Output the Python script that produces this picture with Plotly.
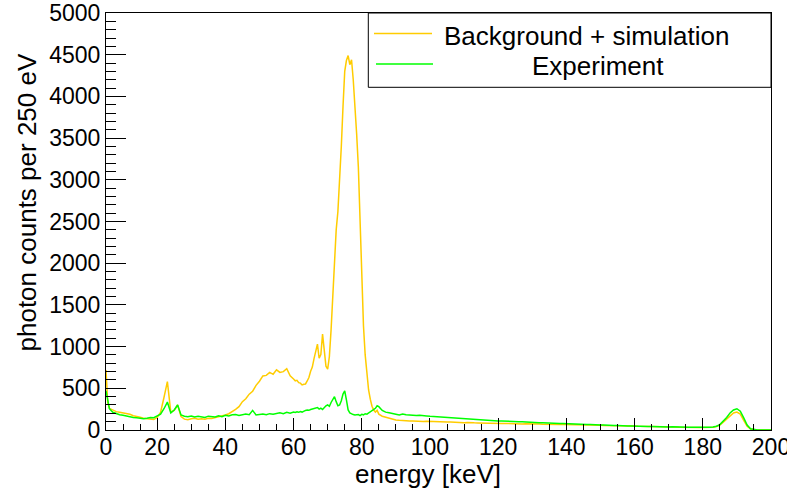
import numpy as np
import plotly.graph_objects as go

# Energy grid in keV: 1 keV steps, 0.5 keV steps across the main peak
energy_low = [5.0, 5.5] + list(range(6, 61))            # 57 points
energy_peak = list(np.arange(60.5, 85.01, 0.5))          # 50 points
energy_tail = list(range(86, 201))                       # 115 points

# Background + simulation (photon counts per 250 eV)
bg_low = [720, 330, 260, 235, 220, 212, 205, 195, 188, 172, 165, 152, 140, 135,
          122, 125, 150, 210, 390, 580, 215, 235, 300, 160, 130, 122, 135, 140,
          128, 135, 130, 142, 138, 148, 155, 165, 180, 195, 218, 248, 280, 340,
          375, 430, 465, 535, 585, 648, 655, 690, 668, 722, 690, 700, 735, 650,
          612]
bg_peak = [590, 596, 568, 562, 540, 548, 552, 588, 630, 705,
           755, 855, 965, 1030, 860, 905, 1150, 940, 765, 730,
           880, 1200, 1600, 2050, 2400, 2620, 2950, 3400, 3880, 4300,
           4430, 4490, 4380, 4440, 4200, 3920, 3550, 3150, 2550, 1750,
           1250, 900, 680, 480, 370, 285, 240, 215, 235, 190]
bg_tail = [165, 152, 141, 131, 121, 116, 111, 109, 107, 109,
           105, 108, 103, 106, 103, 101, 99, 98, 100, 95,
           95, 92, 93, 89, 88, 90, 85, 86, 85, 83,
           84, 81, 82, 79, 80, 77, 79, 76, 77, 74,
           75, 73, 74, 71, 72, 70, 71, 69, 70, 67,
           68, 66, 67, 65, 65, 63, 64, 61, 62, 60,
           60, 58, 59, 57, 57, 55, 55, 53, 53, 51,
           51, 49, 49, 47, 47, 45, 45, 43, 43, 41,
           41, 39, 39, 37, 38, 36, 36, 34, 35, 33,
           33, 32, 31, 31, 30, 30, 31, 34, 42, 60,
           95, 135, 175, 205, 215, 190, 115, 45, 12, 2,
           0, 0, 0, 0, 0]

# Experiment (photon counts per 250 eV)
exp_low = [470, 340, 255, 212, 195, 182, 176, 165, 160, 150, 146, 140, 136, 142,
           150, 148, 165, 190, 255, 335, 205, 240, 300, 180, 165, 158, 168, 155,
           166, 160, 150, 166, 158, 155, 170, 160, 176, 168, 182, 186, 174, 182,
           192, 184, 235, 180, 188, 192, 182, 196, 190, 200, 206, 195, 212, 200,
           216]
exp_peak = [210, 218, 212, 222, 215, 228, 235, 240, 236, 245,
            250, 258, 262, 270, 250, 262, 245, 270, 290, 300,
            285, 330, 370, 400, 340, 290, 300, 350, 430, 470,
            360, 240, 205, 190, 185, 180, 178, 185, 172, 188,
            182, 195, 190, 205, 215, 225, 240, 260, 290, 280]
exp_tail = [235, 214, 206, 194, 189, 181, 191, 184, 179, 174,
            173, 177, 169, 168, 164, 161, 157, 156, 149, 151,
            145, 143, 139, 137, 131, 131, 127, 126, 121, 121,
            117, 117, 114, 113, 109, 109, 105, 105, 101, 101,
            98, 98, 94, 94, 91, 91, 87, 87, 84, 85,
            81, 82, 79, 79, 76, 76, 72, 73, 69, 69,
            65, 66, 62, 63, 59, 60, 56, 57, 54, 55,
            51, 52, 49, 49, 46, 47, 44, 45, 42, 43,
            40, 41, 38, 39, 36, 38, 35, 36, 33, 35,
            32, 33, 31, 32, 30, 32, 32, 36, 45, 65,
            105, 150, 205, 240, 255, 225, 145, 60, 15, 3,
            0, 0, 0, 0, 0]

x_tick_vals = [5, 20, 40, 60, 80, 100, 120, 140, 160, 180, 200]
x_tick_text = ["0", "20", "40", "60", "80", "100", "120", "140", "160", "180", "200"]

series_names = ["Background + simulation", "Experiment"]
series_colors = ["#FFCC00", "#00FF00"]

energy = energy_low + energy_peak + energy_tail
background = bg_low + bg_peak + bg_tail
experiment = exp_low + exp_peak + exp_tail
assert len(energy) == len(background) == len(experiment)

FONT = "Liberation Sans, Arial, Helvetica, sans-serif"

fig = go.Figure()
for name, color, counts in zip(series_names, series_colors, [background, experiment]):
    fig.add_trace(go.Scatter(x=energy, y=counts, mode="lines", name=name,
                             line=dict(color=color, width=1.5), showlegend=False))

fig.update_layout(
    width=787, height=491,
    margin=dict(l=106, r=16, t=13, b=61),
    paper_bgcolor="white", plot_bgcolor="white",
    font=dict(family=FONT, color="black"),
    showlegend=False,
    xaxis=dict(
        range=[5, 200], showgrid=False, zeroline=False, automargin=False,
        showline=True, linecolor="black", linewidth=1, mirror=True,
        ticks="inside", ticklen=12, tickcolor="black", tickwidth=1,
        tickmode="array", tickvals=x_tick_vals, ticktext=x_tick_text,
        tickfont=dict(size=23, family=FONT), ticklabeloverflow="allow",
        ticklabelstandoff=-4,
        minor=dict(ticks="inside", ticklen=6, tickcolor="black", dtick=5, tick0=0),
    ),
    yaxis=dict(
        range=[0, 5000], showgrid=False, zeroline=False, automargin=False,
        showline=True, linecolor="black", linewidth=1, mirror=True,
        ticks="inside", ticklen=20, tickcolor="black", tickwidth=1,
        dtick=500, tick0=0, ticklabeloverflow="allow",
        tickfont=dict(size=23, family=FONT),
        minor=dict(ticks="inside", ticklen=10, tickcolor="black", dtick=100, tick0=0),
    ),
)

# Axis titles
fig.add_annotation(text="energy [keV]", xref="paper", yref="paper",
                   x=(427.5 - 106) / 665, y=(430 - 474) / 417,
                   xanchor="center", yanchor="middle", showarrow=False,
                   font=dict(size=26, family=FONT))
fig.add_annotation(text="photon counts per 250 eV", xref="paper", yref="paper",
                   x=(27 - 106) / 665, y=(430 - 202.5) / 417, textangle=-90,
                   xanchor="center", yanchor="middle", showarrow=False,
                   font=dict(size=26, family=FONT))

# Legend box
leg_x0 = (368.3 - 106) / 665
leg_y0 = (430 - 87.3) / 417
fig.add_shape(type="rect", xref="paper", yref="paper", x0=leg_x0, x1=1.0,
              y0=leg_y0, y1=1.0, fillcolor="white",
              line=dict(color="black", width=1), layer="above")
legend_rows = [(33.5, 374, 432, 586.0), (64.0, 376, 433, 597.5)]
for (row_y, lx0, lx1, tx), name, color in zip(legend_rows, series_names, series_colors):
    yp = (430 - row_y) / 417
    fig.add_shape(type="line", xref="paper", yref="paper",
                  x0=(lx0 - 106) / 665, x1=(lx1 - 106) / 665, y0=yp, y1=yp,
                  line=dict(color=color, width=1.5), layer="above")
    fig.add_annotation(text=name, xref="paper", yref="paper",
                       x=(tx - 106) / 665, y=(430 - row_y - 2) / 417,
                       xanchor="center", yanchor="middle", showarrow=False,
                       font=dict(size=26, family=FONT))

fig.write_html("out.html")
